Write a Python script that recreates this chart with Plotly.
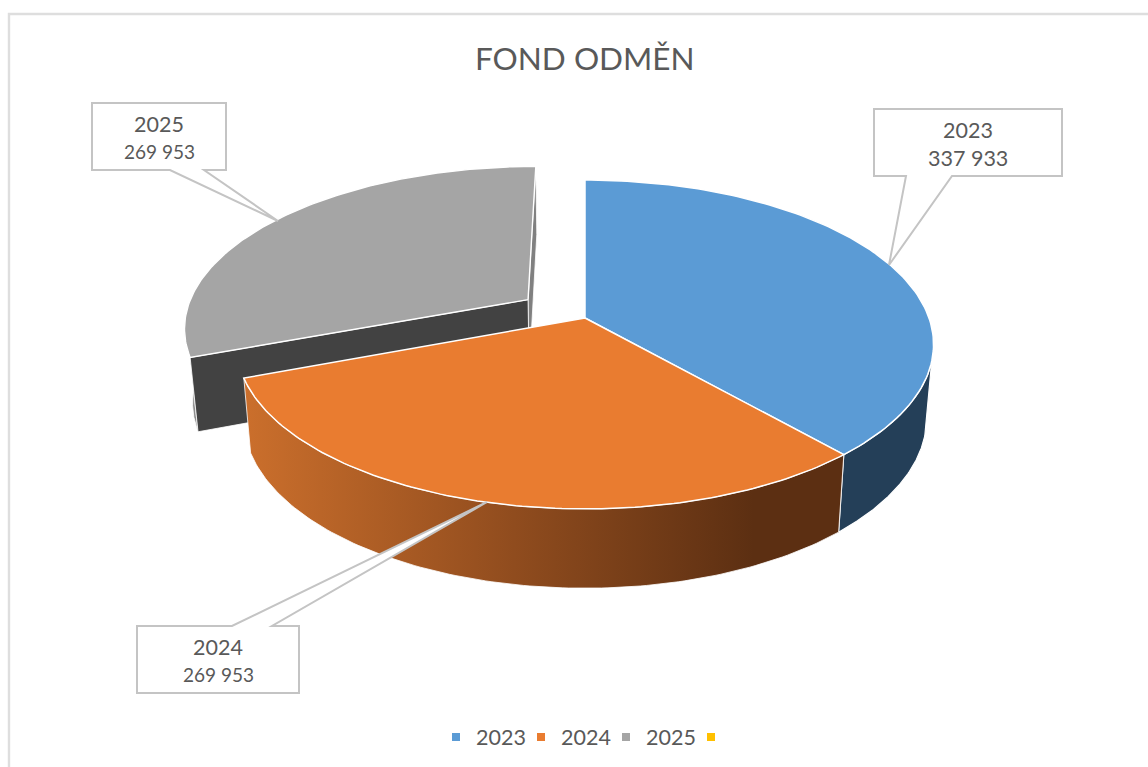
import math
import numpy as np
import plotly.graph_objects as go

# ---- data ----
categories = ["2023", "2024", "2025", ""]
values = [337933, 269953, 269953, 0]
title_text = "FOND ODMĚN"

# ---- styles ----
top_colors = ["#5B9BD5", "#E97C30", "#A5A5A5", "#FFC000"]
wall_colors = ["#243F58", None, "#8C8C8C"]
radial_wall_color = "#424242"
radial_wall_color2 = "#808080"
orange_gradient = [[0, "#CB6F2C"], [0.45, "#904C1E"], [0.85, "#5C2F12"], [1, "#5C2F12"]]
exploded = [0.0, 0.0, 0.205]
TXT = "#595959"
FONT = "Lato"

# ---- 3D projection of the pie ----
CX, CY, A, B, K = 585.0, 318.0, 160.2, 344.0, 0.161
BOTTOM_X, BOTTOM_YS, BOTTOM_Y0 = 0.98, 1.033, 62.5
BLUE_WALL_START = math.radians(105)
GRAY_WALL_END = math.radians(275)


def project(X, Y):
    d = 1 + K * np.asarray(Y, float)
    return CX + B * np.asarray(X, float) / d, CY - A * np.asarray(Y, float) / d


def to_bottom(sx, sy):
    return CX + (sx - CX) * BOTTOM_X, sy * BOTTOM_YS + BOTTOM_Y0


total = sum(values)
fractions = [v / total for v in values[:3]]
edges = np.cumsum([0] + fractions) * 2 * math.pi


def offset(i):
    mid = (edges[i] + edges[i + 1]) / 2
    return exploded[i] * math.sin(mid), exploded[i] * math.cos(mid)


def rim(i, a0=None, a1=None, n=120):
    a0 = edges[i] if a0 is None else a0
    a1 = edges[i + 1] if a1 is None else a1
    t = np.linspace(a0, a1, n)
    ox, oy = offset(i)
    return project(ox + np.sin(t), oy + np.cos(t))


def apex(i):
    ox, oy = offset(i)
    x, y = project(np.array([ox]), np.array([oy]))
    return x, y


def poly(fig, x, y, fill, line="white", lw=1.2, **kw):
    fig.add_trace(go.Scatter(
        x=np.r_[x, x[0]], y=np.r_[y, y[0]], mode="lines", fill="toself",
        fillcolor=fill, line=dict(color=line, width=lw), showlegend=False,
        hoverinfo="skip", **kw))


def outer_wall(i, a0=None, a1=None):
    tx, ty = rim(i, a0, a1)
    bx, by = to_bottom(tx, ty)
    return np.r_[tx, bx[::-1]], np.r_[ty, by[::-1]]


def radial_wall(i, angle):
    ax, ay = apex(i)
    rx, ry = rim(i, angle, angle, 1)
    x = np.r_[ax, rx]
    y = np.r_[ay, ry]
    bx, by = to_bottom(x, y)
    return np.r_[x, bx[::-1]], np.r_[y, by[::-1]]


fig = go.Figure()

# exploded slice first (it sits behind)
x, y = outer_wall(2, None, GRAY_WALL_END)
poly(fig, x, y, wall_colors[2], lw=0.8)
x, y = radial_wall(2, edges[3])
poly(fig, x, y, radial_wall_color2, lw=0.8)
x, y = radial_wall(2, edges[2])
poly(fig, x, y, radial_wall_color, lw=0.8)
rx, ry = rim(2)
ax, ay = apex(2)
poly(fig, np.r_[ax, rx], np.r_[ay, ry], top_colors[2], lw=1.4)

# front walls
x, y = outer_wall(0, BLUE_WALL_START, None)
poly(fig, x, y, wall_colors[0], lw=1.2)
x, y = outer_wall(1)
fig.add_trace(go.Scatter(
    x=np.r_[x, x[0]], y=np.r_[y, y[0]], mode="lines", fill="toself",
    fillgradient=dict(type="horizontal", colorscale=orange_gradient),
    line=dict(color="white", width=0.8), showlegend=False, hoverinfo="skip"))

# top faces
for i in (0, 1):
    rx, ry = rim(i)
    ax, ay = apex(i)
    poly(fig, np.r_[ax, rx], np.r_[ay, ry], top_colors[i], lw=1.5)

# legend entries
for name, col in zip(categories, top_colors):
    fig.add_trace(go.Scatter(
        x=[None], y=[None], mode="markers", name=name if name else " ",
        marker=dict(symbol="square", size=8, color=col)))

# ---- data-label callouts ----
callouts = [
    (0, (874, 109, 1062, 176), (906, 952), 889, 265, "bottom", 21.5),
    (1, (137, 626, 299, 693), (232, 272), 487, 502, "top", 19),
    (2, (92, 103, 226, 170), (170, 204), 278, 221, "bottom", 19),
]
shapes = [dict(type="path", xref="x", yref="y", layer="above",
               path="M 9 800 L 9 14 L 1200 14",
               line=dict(color="#DEDEDE", width=2.4))]
annotations = []
for i, (x0, y0, x1, y1), (t0, t1), tx, ty, side, vsize in callouts:
    if side == "bottom":
        path = (f"M {x0} {y0} L {x1} {y0} L {x1} {y1} L {t1} {y1} "
                f"L {tx} {ty} L {t0} {y1} L {x0} {y1} Z")
    else:
        path = (f"M {x0} {y0} L {t0} {y0} L {tx} {ty} L {t1} {y0} "
                f"L {x1} {y0} L {x1} {y1} L {x0} {y1} Z")
    shapes.append(dict(type="path", xref="x", yref="y", layer="above", path=path,
                       fillcolor="white", line=dict(color="#C4C4C4", width=2)))
    label = f"{values[i]:,}".replace(",", " ")
    cx = (x0 + x1) / 2
    annotations.append(dict(x=cx, y=y0 + 21, text=categories[i], showarrow=False,
                            xref="x", yref="y", font=dict(family=FONT, size=21.5, color=TXT)))
    annotations.append(dict(x=cx, y=y0 + 48.5, text=label, showarrow=False,
                            xref="x", yref="y", font=dict(family=FONT, size=vsize, color=TXT)))
annotations.append(dict(x=585, y=57.5, text=title_text, showarrow=False, xref="x", yref="y",
                        font=dict(family=FONT, size=31.5, color=TXT)))

fig.update_layout(
    width=1148, height=767, margin=dict(l=0, r=0, t=0, b=0),
    paper_bgcolor="white", plot_bgcolor="white",
    xaxis=dict(range=[0, 1148], visible=False, fixedrange=True),
    yaxis=dict(range=[767, 0], visible=False, fixedrange=True),
    shapes=shapes, annotations=annotations, hovermode=False,
    showlegend=True,
    legend=dict(orientation="h", x=436 / 1148, xanchor="left", y=1 - 737 / 767, yanchor="middle",
                entrywidth=40, entrywidthmode="pixels", itemclick=False, itemdoubleclick=False,
                font=dict(family=FONT, size=21.5, color=TXT), bgcolor="rgba(0,0,0,0)"),
)

fig.write_html("out.html", config={"displayModeBar": False},
               post_script="document.body.style.margin='0';document.body.style.overflow='hidden';")
